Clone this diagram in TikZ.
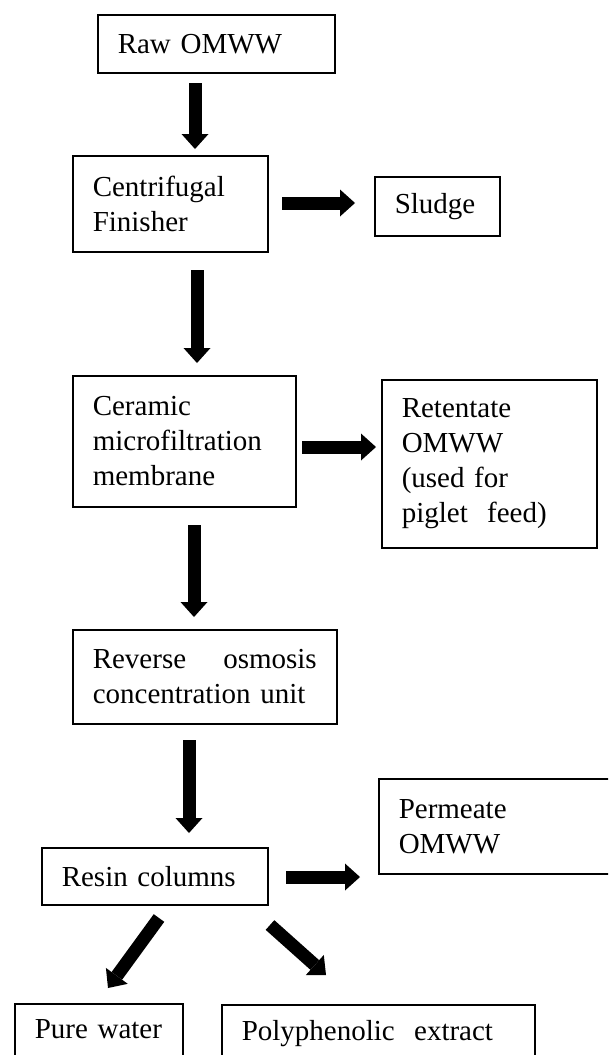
\documentclass[tikz,border=0pt]{standalone}
\usepackage{fontspec}
\setmainfont{Liberation Serif}
\usetikzlibrary{arrows.meta}
\begin{document}
\begin{tikzpicture}[x=1pt,y=-1pt,
  box/.style={draw, line width=1.5pt, anchor=north west, inner xsep=20pt, inner ysep=0pt,
    align=left, font=\fontsize{29}{35}\selectfont},
  flow/.style={line width=13pt, -{Triangle[width=27pt 0,length=15pt 0 0,line width=0pt 0 0]}}]
\useasboundingbox (0,0) rectangle (608,1055);
\clip (0,0) rectangle (608,1055);
\fill[white] (0,0) rectangle (608,1055);

\node[box, text width=197pt, minimum height=58pt] (raw) at (97,14) {Raw~OMWW};
\node[box, text width=155pt, minimum height=96pt] (cent) at (72,155) {Centrifugal\\Finisher};
\node[box, text width=85pt, minimum height=59pt] (sludge) at (374,176) {Sludge};
\node[box, text width=183pt, minimum height=131pt] (ceram) at (72,375) {Ceramic\\microfiltration\\membrane};
\node[box, text width=175pt, minimum height=168pt] (ret) at (381,379) {Retentate\\OMWW\\(used for\\piglet~~feed)};
\node[box, text width=224pt, minimum height=94pt] (rev) at (72,629) {Reverse\hfill osmosis\\concentration unit};
\node[box, text width=186pt, minimum height=57pt] (resin) at (41,847) {Resin~columns};
\node[box, text width=212pt, minimum height=95pt] (perm) at (378,778) {Permeate\\OMWW};
\node[box, text width=128pt, minimum height=80pt, text depth=29pt] (pure) at (14,1003) {Pure~water};
\node[box, text width=273pt, minimum height=80pt, text depth=29pt] (poly) at (221,1004) {Polyphenolic~~extract};

\coordinate (a1s) at (195,83);  \coordinate (a1e) at (195,149);
\coordinate (a2s) at (282,203); \coordinate (a2e) at (355,203);
\coordinate (a3s) at (197,270); \coordinate (a3e) at (197,363);
\coordinate (a4s) at (302,447); \coordinate (a4e) at (376,447);
\coordinate (a5s) at (194,525); \coordinate (a5e) at (194,617);
\coordinate (a6s) at (189,740); \coordinate (a6e) at (189,833);
\coordinate (a7s) at (286,877); \coordinate (a7e) at (360,877);
\coordinate (a8s) at (159,918); \coordinate (a8e) at (108,988);
\coordinate (a9s) at (270,925); \coordinate (a9e) at (326,975);

\draw[flow] (a1s) -- (a1e);
\draw[flow] (a2s) -- (a2e);
\draw[flow] (a3s) -- (a3e);
\draw[flow] (a4s) -- (a4e);
\draw[flow] (a5s) -- (a5e);
\draw[flow] (a6s) -- (a6e);
\draw[flow] (a7s) -- (a7e);
\draw[flow] (a8s) -- (a8e);
\draw[flow] (a9s) -- (a9e);
\end{tikzpicture}
\end{document}
